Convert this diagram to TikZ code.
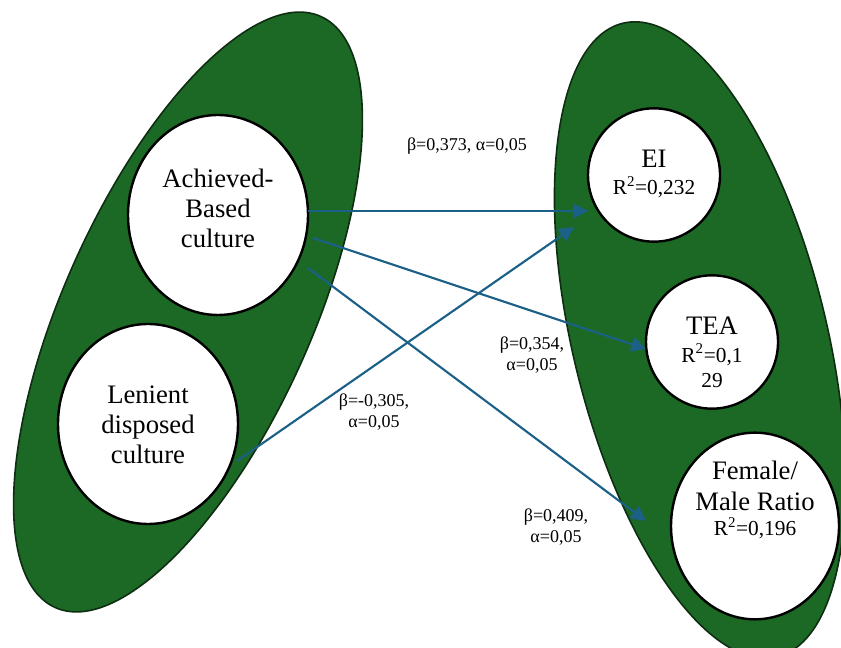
\documentclass[tikz,border=0pt]{standalone}
\usepackage{fontspec}
\setmainfont{Liberation Serif}
\usetikzlibrary{arrows.meta,shapes.geometric,calc}
\definecolor{blobgreen}{RGB}{27,105,37}
\definecolor{blobedge}{RGB}{14,45,18}
\definecolor{linkblue}{RGB}{27,96,135}
\newcommand{\bigtxt}{\fontsize{20}{22.5}\selectfont}
\newcommand{\rsqtxt}{\fontsize{16}{19}\selectfont}
\newcommand{\coeftxt}{\fontsize{13.5}{15.75}\selectfont}

\begin{document}
\begin{tikzpicture}[x=0.75pt,y=0.75pt,>={Triangle[length=11pt,width=11pt]},
  blob/.style={fill=blobgreen,draw=blobedge,line width=1.2pt},
  var/.style={ellipse,draw=black,fill=white,line width=1.8pt,inner sep=0pt},
  vartext/.style={align=center,font=\bigtxt,inner sep=0pt},
  link/.style={->,draw=linkblue,line width=1.6pt},
  coef/.style={align=center,font=\coeftxt,inner sep=0pt}]
  \clip (0,0) rectangle (841,648);

  % the two groups
  \draw[blob,rotate around={65.8:(188,336)}] (188,336) ellipse [x radius=324,y radius=124];
  \draw[blob,rotate around={103.7:(700,308)}] (700,308) ellipse [x radius=326,y radius=127];

  % cultures
  \node[var,minimum width=135pt,minimum height=150pt] (ach) at (218,433) {};
  \node[vartext] (ach-t) at ($(ach)+(0,7)$) {Achieved-\\Based\\culture};
  \node[var,minimum width=135pt,minimum height=150pt] (len) at (148,224) {};
  \node[vartext] (len-t) at ($(len)+(0,-1)$) {Lenient\\disposed\\culture};

  % outcomes
  \node[var,minimum width=99pt,minimum height=100pt] (ei) at (654,473) {};
  \node[vartext] (ei-t) at ($(ei)+(0,1)$) {EI\\[-2.25pt]{\rsqtxt R\textsuperscript{2}=0,232}};
  \node[var,minimum width=99pt,minimum height=100pt] (tea) at (712,306) {};
  \node[vartext] (tea-t) at ($(tea)+(0,-10)$)
    {TEA\\[-1.5pt]{\rsqtxt R\textsuperscript{2}=0,1}\\[-3.75pt]{\rsqtxt 29}};
  \node[var,minimum width=126pt,minimum height=140pt] (fmr) at (755,122) {};
  \node[vartext] (fmr-t) at ($(fmr)+(0,26)$)
    {Female/\\[1pt]Male Ratio\\[-3.75pt]{\rsqtxt R\textsuperscript{2}=0,196}};

  % paths
  \draw[link] ($(ach)+(90,4)$) -- ($(ei)+(-66,-36)$);
  \draw[link] ($(ach)+(95,-23)$) -- ($(tea)+(-66,-7)$);
  \draw[link] ($(ach)+(90,-53)$) -- ($(fmr)+(-109,5)$);
  \draw[link] ($(len)+(89,-37)$) -- ($(ei)+(-80,-52)$);

  \node[coef] (c-ei) at (467,502) {β=0,373, α=0,05};
  \node[coef] (c-tea) at (532,293) {β=0,354,\\α=0,05};
  \node[coef] (c-len) at (374,236) {β=-0,305,\\α=0,05};
  \node[coef] (c-fmr) at (556,121) {β=0,409,\\α=0,05};
\end{tikzpicture}
\end{document}
